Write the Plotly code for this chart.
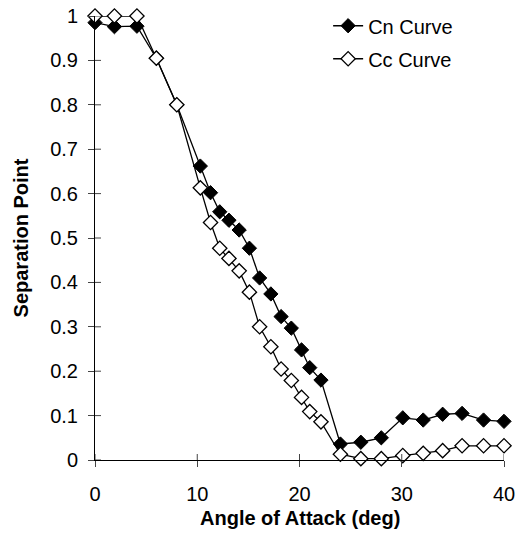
import plotly.graph_objects as go

angle = [0, 1.9, 4.1, 6.0, 8.0, 10.3, 11.3, 12.2, 13.1, 14.1, 15.1, 16.1, 17.2, 18.2,
         19.2, 20.2, 21.0, 22.1, 24.0, 26.0, 28.0, 30.1, 32.1, 34.0, 35.9, 38.0, 40.0]
cn_curve = [0.985, 0.976, 0.977, 0.905, 0.80, 0.662, 0.602, 0.559, 0.54, 0.518, 0.477,
            0.41, 0.374, 0.323, 0.297, 0.248, 0.208, 0.18, 0.036, 0.04, 0.05, 0.095,
            0.09, 0.103, 0.105, 0.09, 0.087]
cc_curve = [1.0, 1.0, 1.0, 0.905, 0.80, 0.613, 0.535, 0.477, 0.454, 0.426, 0.378, 0.30,
            0.255, 0.205, 0.179, 0.141, 0.109, 0.086, 0.013, 0.003, 0.003, 0.01, 0.015,
            0.021, 0.032, 0.032, 0.032]
x_ticks = [0, 10, 20, 30, 40]
y_ticks = [0, 0.1, 0.2, 0.3, 0.4, 0.5, 0.6, 0.7, 0.8, 0.9, 1]
y_tick_text = ["0", "0.1", "0.2", "0.3", "0.4", "0.5", "0.6", "0.7", "0.8", "0.9", "1"]

FONT = "Liberation Sans, Arial, sans-serif"

fig = go.Figure()
fig.add_trace(go.Scatter(
    x=angle, y=cn_curve, name="Cn Curve", mode="lines+markers",
    line=dict(color="black", width=1.3),
    marker=dict(symbol="diamond", size=11, color="black", line=dict(color="black", width=1)),
    cliponaxis=False, legendgroup="a"))
fig.add_trace(go.Scatter(
    x=angle, y=cc_curve, name="Cc Curve", mode="lines+markers",
    line=dict(color="black", width=1.3),
    marker=dict(symbol="diamond", size=11, color="white", line=dict(color="black", width=1.3)),
    cliponaxis=False, legendgroup="b"))

axis_common = dict(showgrid=False, zeroline=False, ticklen=6, tickwidth=1,
                   tickcolor="#444")
fig.update_layout(
    width=521, height=546,
    margin=dict(l=95, r=17, t=16, b=86, autoexpand=False),
    paper_bgcolor="white", plot_bgcolor="white",
    font=dict(family=FONT, size=20, color="black"),
    showlegend=True,
    legend=dict(x=0.570, y=1.022, xanchor="left", yanchor="top",
                bgcolor="rgba(0,0,0,0)", borderwidth=0, tracegroupgap=4,
                font=dict(size=20)),
    xaxis=dict(range=[0, 40], tickvals=x_ticks, ticks="outside", showline=True,
               linecolor="black", linewidth=1, ticklabelstandoff=10,
               automargin=False, **axis_common),
    yaxis=dict(range=[0, 1], tickvals=y_ticks, ticktext=y_tick_text, ticks="outside",
               showline=True, linecolor="black", linewidth=1, ticklabelstandoff=6,
               title=dict(text="<b>Separation Point</b>", standoff=16,
                          font=dict(size=20)),
               automargin=False, **axis_common),
)

fig.add_annotation(text="<b>Angle of Attack (deg)</b>", xref="paper", yref="paper",
                   x=0.5, y=-58 / 444, xanchor="center", yanchor="middle",
                   showarrow=False, font=dict(size=20))

# inner half of the crossing tick marks
for xv in x_ticks:
    fig.add_shape(type="line", xref="x", yref="paper", x0=xv, x1=xv,
                  y0=0, y1=6 / 444, line=dict(color="#444", width=1))
for yv in y_ticks:
    fig.add_shape(type="line", xref="paper", yref="y", x0=0, x1=6 / 409,
                  y0=yv, y1=yv, line=dict(color="#444", width=1))

fig.write_html("out.html")
